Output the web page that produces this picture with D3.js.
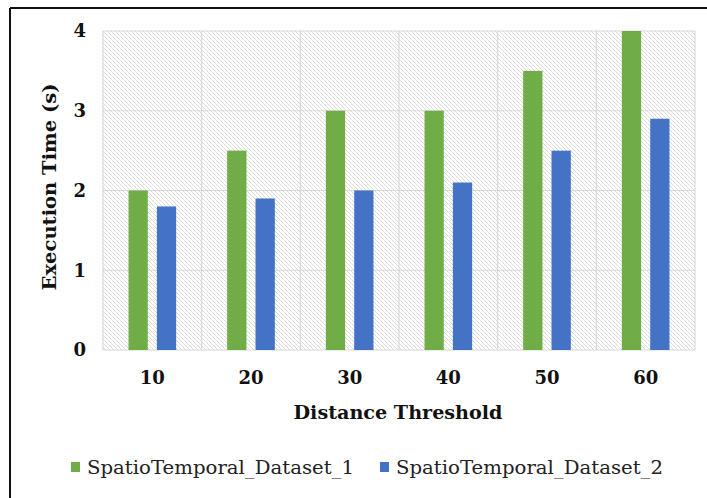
<!DOCTYPE html>
<head>
<meta charset="utf-8">
<script src="https://d3js.org/d3.v7.min.js"></script>
<style>
  body { margin: 0; background: #fff; }
  .axis text { font-family: "DejaVu Serif", serif; font-weight: bold; font-size: 18px; fill: #111; }
</style>
</head>
<body>
<div class="chart"></div>
<script>
var thresholds = ["10", "20", "30", "40", "50", "60"];
var seriesNames = ["SpatioTemporal_Dataset_1", "SpatioTemporal_Dataset_2"];
var dataset1 = [2.0, 2.5, 3.0, 3.0, 3.5, 4.0];
var dataset2 = [1.8, 1.9, 2.0, 2.1, 2.5, 2.9];
var yTicks = [0, 1, 2, 3, 4];
var colors = ["#70AD47", "#4472C4"];

var W = 707, H = 498;
var margin = {top: 31, right: 12, bottom: 148, left: 103};
var width = W - margin.left - margin.right,
    height = H - margin.top - margin.bottom;

var svg = d3.select(".chart").append("svg")
    .attr("width", W).attr("height", H);

// hatch pattern for the plot area
var defs = svg.append("defs");
var pat = defs.append("pattern")
    .attr("id", "hatch")
    .attr("patternUnits", "userSpaceOnUse")
    .attr("width", 4).attr("height", 4);
pat.append("rect").attr("width", 4).attr("height", 4).attr("fill", "#fff");
pat.append("path")
    .attr("d", "M-1,-1 L5,5 M-1,3 L1,5 M3,-1 L5,1")
    .attr("stroke", "#d6d6d6").attr("stroke-width", 0.9);

// outer frame lines
svg.append("line").attr("x1", 10).attr("y1", 8).attr("x2", W).attr("y2", 8)
    .attr("stroke", "#111").attr("stroke-width", 2);
svg.append("line").attr("x1", 10).attr("y1", 8).attr("x2", 10).attr("y2", H)
    .attr("stroke", "#111").attr("stroke-width", 2);

var g = svg.append("g")
    .attr("transform", "translate(" + margin.left + "," + margin.top + ")");

var x0 = d3.scaleBand().domain(thresholds).range([0, width]);
var x1 = d3.scaleBand().domain(seriesNames).range([0, x0.bandwidth()])
    .paddingInner(0.32).paddingOuter(0.9);
var y = d3.scaleLinear().domain([0, 4]).range([height, 0]);

g.append("rect").attr("width", width).attr("height", height)
    .attr("fill", "url(#hatch)");

// gridlines
g.selectAll(".hgrid").data(yTicks).enter().append("line")
    .attr("x1", 0).attr("x2", width)
    .attr("y1", function(d) { return y(d); }).attr("y2", function(d) { return y(d); })
    .attr("stroke", "#d9d9d9").attr("stroke-width", 1.2);
g.selectAll(".vgrid").data(thresholds.concat(["end"])).enter().append("line")
    .attr("x1", function(d, i) { return i * x0.step(); })
    .attr("x2", function(d, i) { return i * x0.step(); })
    .attr("y1", 0).attr("y2", height)
    .attr("stroke", "#d9d9d9").attr("stroke-width", 1.2);

var rows = thresholds.map(function(t, i) {
    return {t: t, vals: [dataset1[i], dataset2[i]]};
});

var groups = g.selectAll(".grp").data(rows).enter().append("g")
    .attr("transform", function(d) { return "translate(" + x0(d.t) + ",0)"; });

groups.selectAll("rect").data(function(d) {
        return d.vals.map(function(v, k) { return {name: seriesNames[k], v: v, k: k}; });
    })
    .enter().append("rect")
    .attr("x", function(d) { return x1(d.name); })
    .attr("width", x1.bandwidth())
    .attr("y", function(d) { return y(d.v); })
    .attr("height", function(d) { return height - y(d.v); })
    .attr("fill", function(d) { return colors[d.k]; });

// axes
var yAxis = d3.axisLeft(y).tickValues(yTicks).tickFormat(d3.format("d")).tickSize(0).tickPadding(17);
g.append("g").attr("class", "axis").call(yAxis)
    .call(function(s) { s.select(".domain").remove(); });

var xAxis = d3.axisBottom(x0).tickSize(0).tickPadding(21);
g.append("g").attr("class", "axis")
    .attr("transform", "translate(0," + height + ")")
    .call(xAxis)
    .call(function(s) { s.select(".domain").remove(); });

// axis titles
svg.append("text")
    .attr("x", 398).attr("y", 419)
    .attr("text-anchor", "middle")
    .style("font-family", "DejaVu Serif, serif").style("font-weight", "bold")
    .style("font-size", "19px").attr("fill", "#111")
    .attr("textLength", 209).attr("lengthAdjust", "spacingAndGlyphs")
    .text("Distance Threshold");

svg.append("text")
    .attr("transform", "translate(56,187) rotate(-90)")
    .attr("text-anchor", "middle")
    .style("font-family", "DejaVu Serif, serif").style("font-weight", "bold")
    .style("font-size", "19px").attr("fill", "#111")
    .attr("textLength", 207).attr("lengthAdjust", "spacingAndGlyphs")
    .text("Execution Time (s)");

// legend
var legendX = [71, 380];
var legend = svg.selectAll(".leg").data(seriesNames).enter().append("g")
    .attr("transform", function(d, i) { return "translate(" + legendX[i] + ",462)"; });
legend.append("rect").attr("width", 9).attr("height", 10)
    .attr("fill", function(d, i) { return colors[i]; });
legend.append("text")
    .attr("x", 16).attr("y", 12)
    .style("font-family", "DejaVu Serif, serif").style("font-size", "19px")
    .attr("fill", "#222")
    .attr("textLength", 267).attr("lengthAdjust", "spacingAndGlyphs")
    .text(function(d) { return d; });
</script>
</body>
